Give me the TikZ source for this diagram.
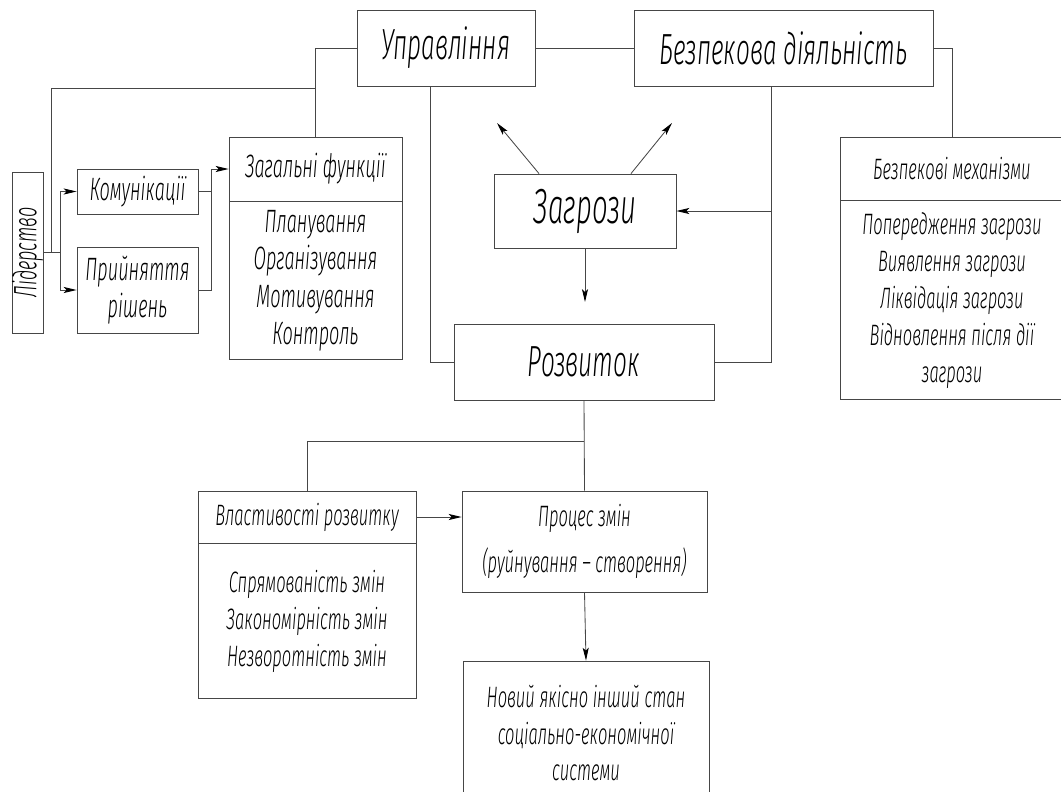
\documentclass[tikz,border=0pt]{standalone}
\usepackage{fontspec}
\setmainfont{Fira Sans Light Italic}[FakeStretch=0.56]
\usetikzlibrary{arrows.meta,positioning}

\begin{document}
\begin{tikzpicture}[color=gray!55!black, line width=0.6pt,
	box/.style={draw, rectangle, text=black, align=center, inner sep=1pt},
	big/.style={font=\fontsize{31}{35}\selectfont},
	mid/.style={font=\fontsize{23}{26.5}\selectfont},
	small/.style={font=\fontsize{21}{26.3}\selectfont},
	arr/.style={-{Stealth[length=3.2mm,width=1.5mm,inset=0.7mm,color=black]}}]
	\useasboundingbox (0,0) rectangle (26.525,-19.8);

	\node[box, big, minimum width=4.45cm, minimum height=1.9cm] (upr) at (11.15,-1.2) {Управління};
	\node[box, big, minimum width=7.475cm, minimum height=1.9cm] (bezd) at (19.59,-1.2) {Безпекова діяльність};
	\node[box, mid, minimum width=0.725cm, minimum height=4.025cm, inner sep=0pt] (lid) at (0.6875,-6.3125) {\rotatebox{90}{Лідерство}};
	\node[box, mid, minimum width=3.025cm, minimum height=1.125cm] (kom) at (3.4375,-4.7875) {Комунікації};
	\node[box, mid, minimum width=3.025cm, minimum height=2.15cm] (pr) at (3.4375,-7.25) {Прийняття\\рішень};
	\node[box, mid, minimum width=4.325cm, minimum height=1.6cm] (zagh) at (7.8875,-4.225) {Загальні функції};
	\node[box, mid, minimum width=4.325cm, minimum height=3.95cm, below=0pt of zagh] (zagb) {Планування\\Організування\\Мотивування\\Контроль};
	\node[box, font=\fontsize{35}{38}\selectfont, minimum width=4.55cm, minimum height=1.85cm] (zagr) at (14.625,-5.275) {Загрози};
	\node[box, big, minimum width=6.5cm, minimum height=1.9cm] (rozv) at (14.6,-9.05) {Розвиток};
	\node[box, small, minimum width=5.6cm, minimum height=1.575cm] (mechh) at (23.8,-4.2125) {Безпекові механізми};
	\node[box, small, minimum width=5.6cm, minimum height=4.975cm, below=0pt of mechh] (mechb) {Попередження загрози\\Виявлення загрози\\Ліквідація загрози\\Відновлення після дії\\загрози};
	\node[box, small, minimum width=5.45cm, minimum height=1.3cm] (vlh) at (7.675,-12.925) {Властивості розвитку};
	\node[box, small, minimum width=5.45cm, minimum height=3.875cm, below=0pt of vlh] (vlb) {Спрямованість змін\\Закономірність змін\\Незворотність змін};
	\node[box, small, minimum width=6.125cm, minimum height=2.525cm] (procz) at (14.6125,-13.5375) {Процес змін\\[6pt](руйнування – створення)};
	\node[box, small, minimum width=6.15cm, minimum height=3.6cm] (nov) at (14.65,-18.325) {Новий якісно інший стан\\соціально-економічної\\системи};

	\coordinate (zagup) at (7.8875,-2.2);
	\coordinate (lidjoin) at (1.275,-6.3125);
	\coordinate (lsplit) at (1.5,-6.3125);
	\coordinate (fjoin) at (5.275,-4.225);
	\coordinate (uprleg) at (10.75,-2.15);
	\coordinate (bezdleg) at (19.275,-2.15);
	\coordinate (rbranch) at (14.6,-11.025);
	\coordinate (thl) at (12.425,-3.075);
	\coordinate (thr) at (16.8,-3.075);
	\coordinate (zdown) at (14.625,-7.55);

	\draw (upr.east) -- (bezd.west);
	\draw (upr.west) -| (zagh.north);
	\draw (zagup) -| (lidjoin);
	\draw (lid.east) -- (lsplit);
	\draw[arr] (lsplit) |- (kom.west);
	\draw[arr] (lsplit) |- (pr.west);
	\draw (kom.east) -| (fjoin);
	\draw (pr.east) -| (fjoin);
	\draw[arr] (fjoin) -- (zagh.west);
	\draw (bezd.east) -| (mechh.north);
	\draw (uprleg) |- (rozv.west);
	\draw (bezdleg) |- (rozv.east);
	\draw[arr] (zagr.east -| bezdleg) -- (zagr.east);
	\draw[arr] ([xshift=-1.15cm]zagr.north) -- (thl);
	\draw[arr] ([xshift=1.15cm]zagr.north) -- (thr);
	\draw[arr] (zagr.south) -- (zdown);
	\draw (rozv.south) -- (procz.north);
	\draw (rbranch) -| (vlh.north);
	\draw[arr] (vlh.east) -- (vlh.east -| procz.west);
	\draw[arr] (procz.south) -- (nov.north);
\end{tikzpicture}
\end{document}
